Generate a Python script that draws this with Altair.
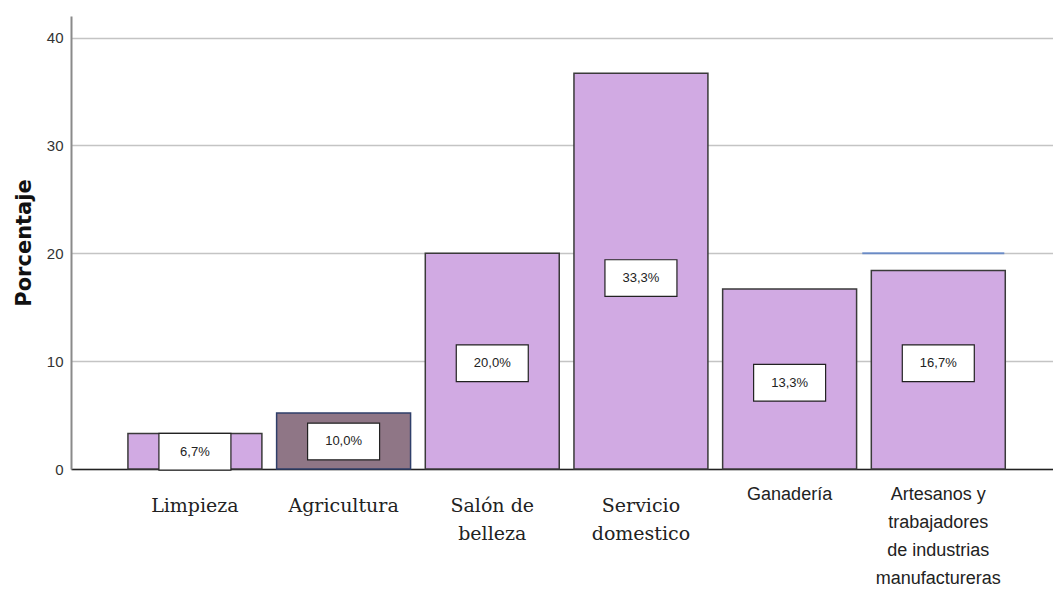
import altair as alt
import pandas as pd

categorias = ["Limpieza", "Agricultura", "Salón de|belleza", "Servicio|domestico",
              "Ganadería", "Artesanos y|trabajadores|de industrias|manufactureras"]
porcentaje = [3.3, 5.2, 20.0, 36.7, 16.7, 18.4]
etiquetas = ["6,7%", "10,0%", "20,0%", "33,3%", "13,3%", "16,7%"]
etiqueta_y = [1.6, 2.55, 9.8, 17.7, 8.0, 9.8]
relleno = ["#d1aae3", "#8f7686", "#d1aae3", "#d1aae3", "#d1aae3", "#d1aae3"]
borde = ["#3a3a3a", "#2f3f6a", "#3a3a3a", "#3a3a3a", "#3a3a3a", "#3a3a3a"]

df = pd.DataFrame({
    "cat": categorias,
    "val": porcentaje,
    "lab": etiquetas,
    "ly": etiqueta_y,
    "ly0": [v - 1.7 for v in etiqueta_y],
    "ly1": [v + 1.7 for v in etiqueta_y],
    "fill": relleno,
    "stroke": borde,
})

test_sans = "indexof(['Ganadería', 'Artesanos y|trabajadores|de industrias|manufactureras'], datum.value) >= 0"

xscale = alt.Scale(paddingInner=0.099, paddingOuter=0.352, align=0.544)

x = alt.X(
    "cat:N", sort=categorias, title=None, scale=xscale,
    axis=alt.Axis(
        labelAngle=0, ticks=False, grid=False,
        domainColor="#222222", domainWidth=1.5,
        labelExpr="split(datum.label, '|')",
        labelColor="#222222",
        labelFont={"condition": {"test": test_sans, "value": "Liberation Sans"},
                   "value": "DejaVu Serif"},
        labelFontSize={"condition": {"test": test_sans, "value": 18}, "value": 19},
        labelPadding={"condition": {"test": test_sans, "value": 16}, "value": 27},
        labelLineHeight=28,
        labelBaseline="top",
    ),
)

y = alt.Y(
    "val:Q", title="Porcentaje",
    scale=alt.Scale(domain=[0, 42], nice=False),
    axis=alt.Axis(
        values=[0, 10, 20, 30, 40], grid=True, gridColor="#c4c4c4", gridWidth=1.3,
        ticks=False, domainColor="#8a8a8a", domainWidth=2,
        labelFont="Liberation Sans", labelFontSize=15,
        labelColor="#333333", labelPadding=8,
        titleFont="DejaVu Sans", titleFontSize=21, titleFontWeight="bold",
        titleColor="#111111", titlePadding=12,
    ),
)

bars = alt.Chart(df).mark_bar(strokeWidth=1.5).encode(
    x=x, y=y,
    fill=alt.Fill("fill:N", scale=None),
    stroke=alt.Stroke("stroke:N", scale=None),
)

boxes = alt.Chart(df).mark_bar(width=72, fill="white", stroke="#222222", strokeWidth=1.2).encode(
    x=alt.X("cat:N", sort=categorias),
    y=alt.Y("ly0:Q"),
    y2="ly1:Q",
)

texts = alt.Chart(df).mark_text(font="Liberation Sans", fontSize=13, color="#222222").encode(
    x=alt.X("cat:N", sort=categorias),
    y=alt.Y("ly:Q"),
    text="lab:N",
)

blue = alt.Chart(pd.DataFrame({"cat": [categorias[-1]], "v": [20.0]})).mark_tick(
    color="#4472c4", thickness=2, size=142, xOffset=-5
).encode(
    x=alt.X("cat:N", sort=categorias),
    y=alt.Y("v:Q"),
)

chart = alt.layer(bars, boxes, texts, blue).properties(
    width=982, height=453,
    autosize=alt.AutoSizeParams(type="none"),
    padding={"left": 63, "top": 8, "right": 0, "bottom": 139},
).configure_view(stroke=None)

chart.save("out.html", embed_options={"renderer": "svg", "actions": False})
